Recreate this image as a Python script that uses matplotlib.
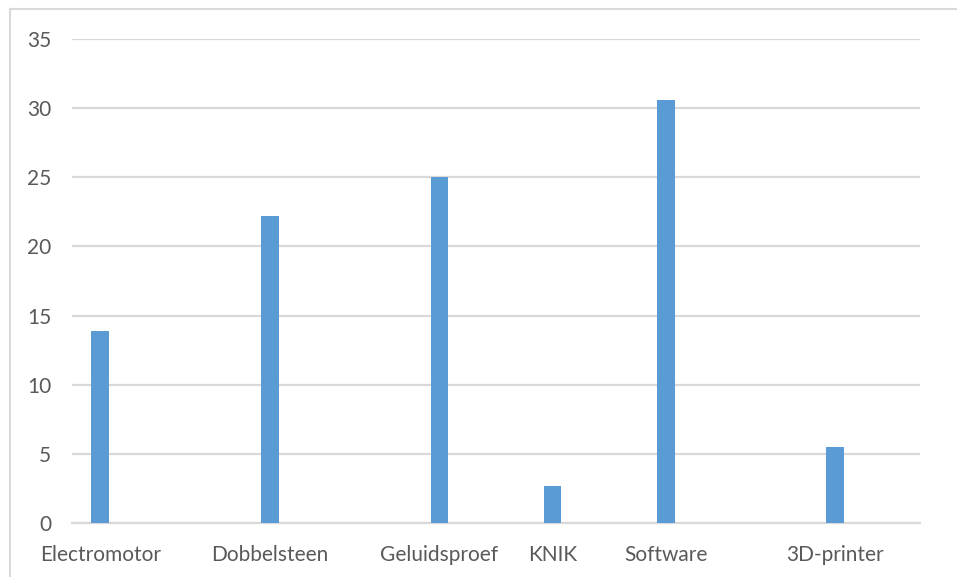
import numpy as np
import matplotlib.pyplot as plt
from matplotlib.lines import Line2D

# Category slots as laid out in the original sheet (blank cells between)
categories = ['Electromotor', '', '', 'Dobbelsteen', '', '', 'Geluidsproef', '',
              'KNIK', '', 'Software', '', '', '3D-printer', '']
values = [13.9, np.nan, np.nan, 22.2, np.nan, np.nan, 25.0, np.nan,
          2.7, np.nan, 30.6, np.nan, np.nan, 5.5, np.nan]
y_ticks = [0, 5, 10, 15, 20, 25, 30, 35]

plt.rcParams['font.family'] = ['Lato', 'DejaVu Sans']

fig = plt.figure(figsize=(9.57, 5.77), dpi=100)
ax = fig.add_axes([72 / 957, 54 / 577, 848 / 957, 484 / 577])

x = np.arange(len(categories))
ax.bar(x, values, width=0.315, color='#5b9bd5', zorder=3)

ax.set_xlim(-0.5, len(categories) - 0.5)
ax.set_ylim(0, 35)
ax.set_yticks(y_ticks)
ax.set_xticks(x)
ax.set_xticklabels(categories)
ax.yaxis.grid(True, color='#d9d9d9', linewidth=1.6, zorder=0)
ax.tick_params(axis='both', length=0, colors='#595959', labelsize=15)
ax.tick_params(axis='x', pad=16)
ax.tick_params(axis='y', pad=15)
for s in ['top', 'right', 'left']:
    ax.spines[s].set_visible(False)
ax.spines['bottom'].set_color('#d9d9d9')
ax.spines['bottom'].set_linewidth(1.6)

# chart-area border (top and left edges visible in the crop)
fig.add_artist(Line2D([10 / 957, 1], [1 - 9 / 577, 1 - 9 / 577], color='#d9d9d9', lw=1.5))
fig.add_artist(Line2D([10 / 957, 10 / 957], [0, 1 - 9 / 577], color='#d9d9d9', lw=1.5))

plt.savefig('out.png', dpi=100)
